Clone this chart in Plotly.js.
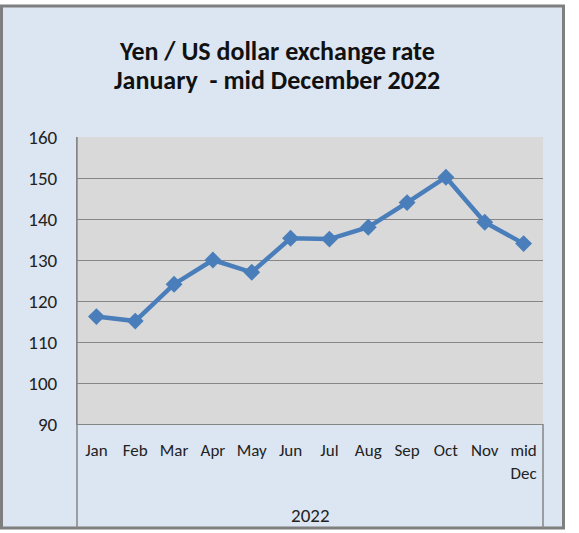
<!DOCTYPE html>
<html>
<head>
<meta charset="utf-8">
<script src="https://cdn.plot.ly/plotly-3.0.1.min.js"></script>
<style>html,body{margin:0;padding:0;background:#fff;}</style>
</head>
<body>
<div id="chart" style="width:579px;height:533px;"></div>
<script>
const months = ["Jan","Feb","Mar","Apr","May","Jun","Jul","Aug","Sep","Oct","Nov","mid Dec"];
const monthLabels = ["Jan","Feb","Mar","Apr","May","Jun","Jul","Aug","Sep","Oct","Nov","mid<br>Dec"];
const yenPerDollar = [116.2,115.1,124.1,130,127,135.3,135.1,138,144,150.2,139.2,134];
const yTicks = [90,100,110,120,130,140,150,160];
const yearLabel = "2022";
const titleLines = ["Yen / US dollar exchange rate", "January  - mid December 2022"];

const font = "Carlito, Calibri, 'Liberation Sans', Arial, sans-serif";
const L = 77, R = 543, T = 137, B = 424, W = 579, H = 533;
const pw = R - L, ph = B - T;
const px = x => (x - L) / pw;
const py = y => (B - y) / ph;

const trace = {
  x: months, y: yenPerDollar, type: 'scatter', mode: 'lines+markers',
  line: {color: '#4a7ebb', width: 4.5},
  marker: {symbol: 'diamond', size: 13, color: '#4a7ebb'},
  hoverinfo: 'skip', showlegend: false
};

const layout = {
  width: W, height: H,
  margin: {l: L, r: W - R, t: T, b: H - B, pad: 0},
  paper_bgcolor: '#ffffff',
  plot_bgcolor: '#d9d9d9',
  xaxis: {
    type: 'category', tickvals: months, ticktext: monthLabels,
    showgrid: false, showline: true, linecolor: '#868686', linewidth: 1,
    ticks: '', ticklabelstandoff: 11,
    tickfont: {family: font, size: 17, color: '#222'},
    range: [-0.5, 11.5], fixedrange: true, zeroline: false, mirror: false
  },
  yaxis: {
    range: [90, 160], tickvals: yTicks,
    showgrid: true, gridcolor: '#868686', gridwidth: 1,
    showline: true, linecolor: '#868686', linewidth: 1,
    ticks: '', ticklabelstandoff: 15,
    tickfont: {family: font, size: 19, color: '#222'},
    zeroline: false, fixedrange: true
  },
  shapes: [
    {type: 'rect', xref: 'paper', yref: 'paper', layer: 'below',
     x0: px(1.5), x1: px(563.5), y0: py(528), y1: py(6),
     fillcolor: '#dce6f2', line: {color: '#7f7f7f', width: 3}},
    {type: 'rect', xref: 'paper', yref: 'paper', layer: 'below',
     x0: 0, x1: 1, y0: 0, y1: 1,
     fillcolor: '#d9d9d9', line: {width: 0}},
    {type: 'line', xref: 'paper', yref: 'paper', x0: 0, x1: 0, y0: py(528), y1: 1,
     line: {color: '#868686', width: 1.5}},
    {type: 'line', xref: 'paper', yref: 'paper', x0: 1, x1: 1, y0: py(528), y1: 0,
     line: {color: '#868686', width: 1.5}}
  ],
  annotations: [
    {text: "<b>" + titleLines[0] + "</b>", xref: 'paper', yref: 'paper', x: px(277), y: py(51),
     xanchor: 'center', yanchor: 'middle', showarrow: false,
     font: {family: font, size: 26, color: '#111'}},
    {text: "<b>" + titleLines[1] + "</b>", xref: 'paper', yref: 'paper', x: px(277), y: py(80),
     xanchor: 'center', yanchor: 'middle', showarrow: false,
     font: {family: font, size: 26, color: '#111'}},
    {text: yearLabel, xref: 'paper', yref: 'paper', x: 0.5, y: py(515),
     xanchor: 'center', yanchor: 'middle', showarrow: false,
     font: {family: font, size: 19, color: '#222'}}
  ]
};

Plotly.newPlot('chart', [trace], layout, {displayModeBar: false, staticPlot: true});
</script>
</body>
</html>
